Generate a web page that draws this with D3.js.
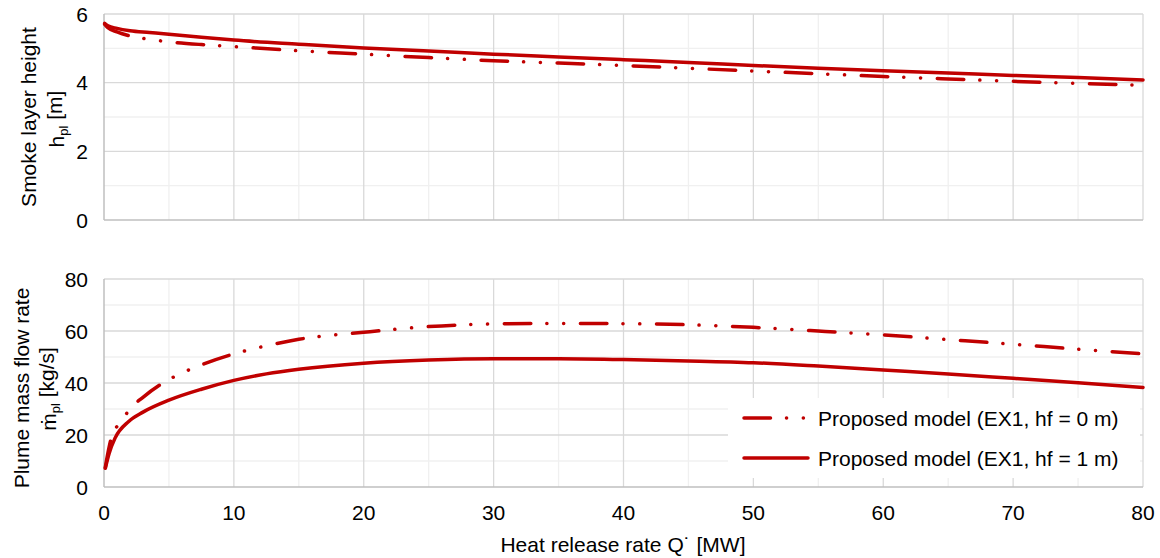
<!DOCTYPE html>
<html>
<head>
<meta charset="utf-8">
<script src="https://cdn.jsdelivr.net/npm/d3@7"></script>
<style>
  body { margin: 0; background: #fff; }
  text { font-family: "Liberation Sans", Arial, sans-serif; fill: #000; }
</style>
</head>
<body>
<div id="board"></div>
<script>
// values
var xTicks = [0, 10, 20, 30, 40, 50, 60, 70, 80];
var xMinor = [5, 15, 25, 35, 45, 55, 65, 75];
var hTicks = [0, 2, 4, 6];
var hMinor = [1, 3, 5];
var mTicks = [0, 20, 40, 60, 80];
var mMinor = [10, 30, 50, 70];

// smoke layer height h_pl [m]
var qH0 = [0.05, 0.3, 1, 2, 3.5, 5, 7.5, 10, 15, 20, 25, 30, 35, 40, 45, 50, 55, 60, 65, 70, 75, 80];
var hH0 = [5.70, 5.60, 5.48, 5.36, 5.26, 5.19, 5.11, 5.05, 4.93, 4.83, 4.73, 4.64, 4.57, 4.50, 4.42, 4.34, 4.26, 4.18, 4.11, 4.04, 3.98, 3.92];
var qH1 = [0.05, 0.3, 1, 2, 3.5, 5, 7.5, 10, 15, 20, 25, 30, 35, 40, 45, 50, 55, 60, 65, 70, 75, 80];
var hH1 = [5.73, 5.66, 5.58, 5.51, 5.46, 5.41, 5.32, 5.24, 5.12, 5.01, 4.92, 4.83, 4.75, 4.67, 4.59, 4.50, 4.42, 4.35, 4.28, 4.21, 4.15, 4.08];

// plume mass flow rate m_pl [kg/s]
var qM0 = [0.1, 0.3, 0.6, 1.3, 2, 3, 4.7, 5.85, 7.5, 10, 12.5, 15, 20, 25, 30, 35, 40, 45, 50, 55, 60, 65, 70, 75, 80];
var mM0 = [7.5, 13, 19.5, 25, 30, 34.5, 40.5, 43.5, 47, 51.2, 54.3, 56.8, 59.5, 61.7, 62.7, 62.9, 62.8, 62.4, 61.4, 60, 58.5, 56.7, 54.9, 53, 51.2];
var qM1 = [0.1, 0.4, 0.85, 1.9, 3, 5, 7.5, 10, 12.5, 15, 20, 25, 30, 35, 40, 45, 50, 55, 60, 65, 70, 75, 80];
var mM1 = [7.2, 13, 18.8, 25.2, 28.8, 33.4, 37.6, 41.0, 43.5, 45.3, 47.6, 48.8, 49.3, 49.3, 49, 48.5, 47.8, 46.5, 45, 43.5, 41.8, 40.1, 38.3];

var legendLabels = ["Proposed model (EX1, hf = 0 m)", "Proposed model (EX1, hf = 1 m)"];

var red = "#c00000";
var dashPat = "26.5,16,0.1,16.7,0.1,16.7";

var svg = d3.select("#board").append("svg")
    .attr("width", 1160)
    .attr("height", 558);

var x = d3.scaleLinear().domain([0, 80]).range([104, 1143]);
var yH = d3.scaleLinear().domain([0, 6]).range([220, 14]);
var yM = d3.scaleLinear().domain([0, 80]).range([487, 279]);

function zip(a, b) { return a.map(function(v, i) { return [v, b[i]]; }); }

function panel(y, yt, ym, showX) {
    var g = svg.append("g");
    var y0 = y.range()[0], y1 = y.range()[1];

    // minor grid
    g.selectAll(".vmin").data(xMinor).enter().append("line")
        .attr("x1", x).attr("x2", x).attr("y1", y0).attr("y2", y1)
        .attr("stroke", "#f0f0f0").attr("stroke-width", 1.3);
    g.selectAll(".hmin").data(ym).enter().append("line")
        .attr("x1", x(0)).attr("x2", x(80)).attr("y1", y).attr("y2", y)
        .attr("stroke", "#f0f0f0").attr("stroke-width", 1.3);
    // major grid
    g.selectAll(".vmaj").data(xTicks.slice(1)).enter().append("line")
        .attr("x1", x).attr("x2", x).attr("y1", y0).attr("y2", y1)
        .attr("stroke", "#d9d9d9").attr("stroke-width", 1.3);
    g.selectAll(".hmaj").data(yt.slice(1)).enter().append("line")
        .attr("x1", x(0)).attr("x2", x(80)).attr("y1", y).attr("y2", y)
        .attr("stroke", "#d9d9d9").attr("stroke-width", 1.3);
    // axes lines
    g.append("line").attr("x1", x(0)).attr("x2", x(0)).attr("y1", y0).attr("y2", y1)
        .attr("stroke", "#bfbfbf").attr("stroke-width", 1.5);
    g.append("line").attr("x1", x(0)).attr("x2", x(80)).attr("y1", y0).attr("y2", y0)
        .attr("stroke", "#bfbfbf").attr("stroke-width", 1.5);

    // y tick labels
    g.selectAll(".yl").data(yt).enter().append("text")
        .attr("x", 88).attr("y", y).attr("dy", "0.36em")
        .attr("text-anchor", "end").style("font-size", "21px")
        .text(function(d) { return d; });

    if (showX) {
        g.selectAll(".xl").data(xTicks).enter().append("text")
            .attr("x", x).attr("y", 520)
            .attr("text-anchor", "middle").style("font-size", "21px")
            .text(function(d) { return d; });
    }
    return g;
}

var line = function(y) {
    return d3.line().x(function(d) { return x(d[0]); }).y(function(d) { return y(d[1]); })
        .curve(d3.curveMonotoneX);
};

var top = panel(yH, hTicks, hMinor, false);
var bot = panel(yM, mTicks, mMinor, true);

// legend box (drawn before lines)
var lg = svg.append("g");
lg.append("rect").attr("x", 728).attr("y", 398).attr("width", 412).attr("height", 80).attr("fill", "#fff");

function drawSeries(g, y, data, dashed) {
    g.append("path")
        .datum(data)
        .attr("d", line(y))
        .attr("fill", "none")
        .attr("stroke", red)
        .attr("stroke-width", 3.5)
        .attr("stroke-linecap", "round")
        .attr("stroke-linejoin", "round")
        .attr("stroke-dasharray", dashed ? dashPat : null);
}

drawSeries(svg, yH, zip(qH1, hH1), false);
drawSeries(svg, yH, zip(qH0, hH0), true);
drawSeries(svg, yM, zip(qM1, mM1), false);
drawSeries(svg, yM, zip(qM0, mM0), true);

// legend entries
legendLabels.forEach(function(lbl, i) {
    var cy = 418 + i * 40;
    lg.append("line")
        .attr("x1", 744).attr("x2", 808).attr("y1", cy).attr("y2", cy)
        .attr("stroke", red).attr("stroke-width", 3.5)
        .attr("stroke-linecap", "round")
        .attr("stroke-dasharray", i == 0 ? dashPat : null);
    lg.append("text").attr("x", 818).attr("y", cy).attr("dy", "0.36em")
        .style("font-size", "21px").text(lbl);
});

// axis titles
var t1 = svg.append("text").attr("transform", "translate(29,117) rotate(-90)")
    .attr("text-anchor", "middle").attr("dy", "0.35em").style("font-size", "21px")
    .text("Smoke layer height");
var t2 = svg.append("text").attr("transform", "translate(57,119) rotate(-90)")
    .attr("text-anchor", "middle").attr("dy", "0.35em").style("font-size", "21px");
t2.append("tspan").text("h");
t2.append("tspan").attr("dy", "0.25em").style("font-size", "13px").text("pl");
t2.append("tspan").attr("dy", "-0.25em").text(" [m]");

svg.append("text").attr("transform", "translate(22,388) rotate(-90)")
    .attr("text-anchor", "middle").attr("dy", "0.35em").style("font-size", "21px")
    .text("Plume mass flow rate");
var t4 = svg.append("text").attr("transform", "translate(49,389) rotate(-90)")
    .attr("text-anchor", "middle").attr("dy", "0.35em").style("font-size", "21px");
t4.append("tspan").text("ṁ");
t4.append("tspan").attr("dy", "0.25em").style("font-size", "13px").text("pl");
t4.append("tspan").attr("dy", "-0.25em").text(" [kg/s]");

svg.append("text").attr("x", 623).attr("y", 552).attr("text-anchor", "middle")
    .style("font-size", "21px").text("Heat release rate Q˙ [MW]");
</script>
</body>
</html>
